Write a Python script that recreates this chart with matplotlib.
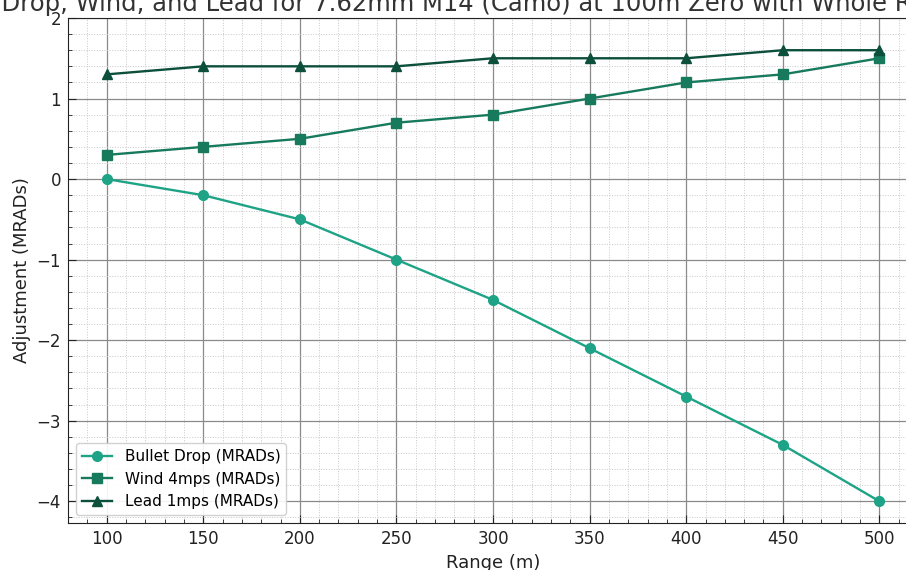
import matplotlib
matplotlib.use("Agg")
import matplotlib.pyplot as plt
from matplotlib.ticker import MultipleLocator

# range in metres and adjustments in MRADs
ranges = [100, 150, 200, 250, 300, 350, 400, 450, 500]
bullet_drop = [0.0, -0.2, -0.5, -1.0, -1.5, -2.1, -2.7, -3.3, -4.0]
wind_4mps = [0.3, 0.4, 0.5, 0.7, 0.8, 1.0, 1.2, 1.3, 1.5]
lead_1mps = [1.3, 1.4, 1.4, 1.4, 1.5, 1.5, 1.5, 1.6, 1.6]

title = "Bullet Drop, Wind, and Lead for 7.62mm M14 (Camo) at 100m Zero with Whole Range"

fig = plt.figure(figsize=(9.06, 5.70), dpi=100)
# axes runs past the right edge, like the cropped original
ax = fig.add_axes([68/906, 47/570, 850/906, 505/570])

ax.plot(ranges, bullet_drop, marker='o', color='#1fa386', lw=1.7, ms=7, label='Bullet Drop (MRADs)')
ax.plot(ranges, wind_4mps, marker='s', color='#177a5d', lw=1.7, ms=6.5, label='Wind 4mps (MRADs)')
ax.plot(ranges, lead_1mps, marker='^', color='#0c4f3b', lw=1.7, ms=6.5, label='Lead 1mps (MRADs)')

ax.set_xlim(80, 520)
ax.set_ylim(-4.27, 2.0)
ax.xaxis.set_major_locator(MultipleLocator(50))
ax.xaxis.set_minor_locator(MultipleLocator(10))
ax.yaxis.set_major_locator(MultipleLocator(1))
ax.yaxis.set_minor_locator(MultipleLocator(0.2))

ax.grid(which='major', color='#8a8a8a', lw=0.9, ls='-')
ax.grid(which='minor', color='#c8c8c8', lw=0.7, ls=':')
ax.set_axisbelow(True)
ax.tick_params(which='both', direction='in', labelsize=12, colors='#222222')
ax.tick_params(which='major', length=6, pad=5)
ax.tick_params(which='minor', length=3)
for s in ax.spines.values():
    s.set_color('#222222')

# title is cut on both sides in the original, so place it by hand
fig.text(-76/906, 1 - 11/570, title, fontsize=17.5, color='#333333', ha='left', va='baseline')
ax.set_xlabel('Range (m)', fontsize=13, color='#222222', labelpad=4)
ax.set_ylabel('Adjustment (MRADs)', fontsize=13, color='#222222')
ax.legend(loc='lower left', fontsize=11, framealpha=0.9)

fig.savefig('out.png', dpi=100)
